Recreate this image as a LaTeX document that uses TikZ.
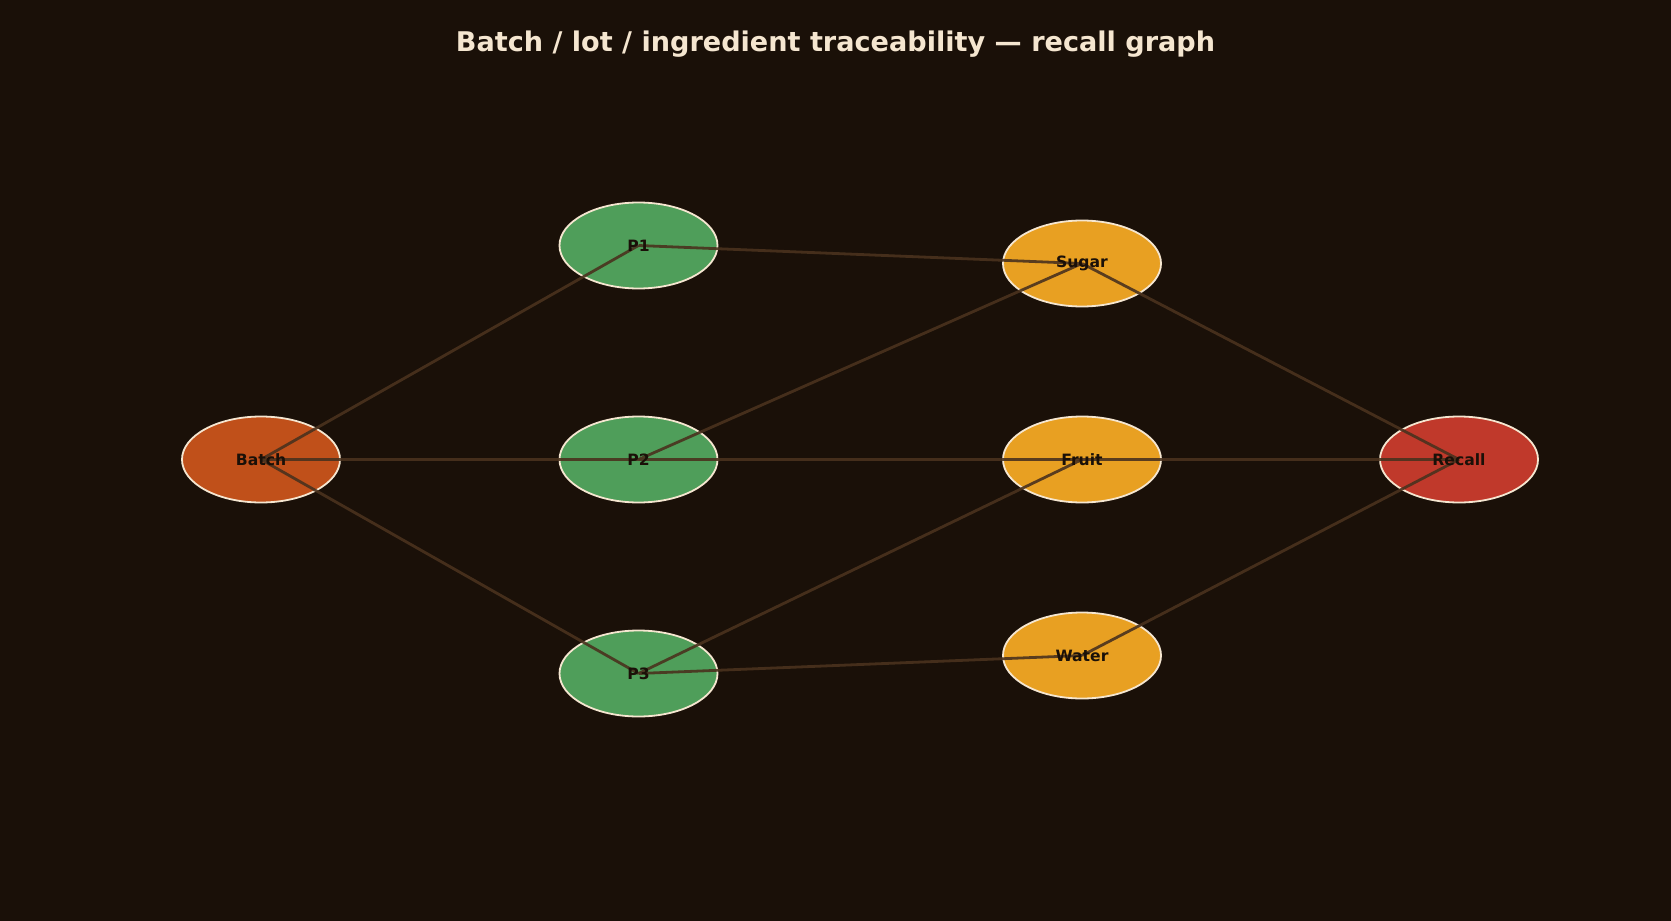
\documentclass[tikz,border=0pt]{standalone}
\usepackage{fontspec}
\setmainfont{DejaVu Sans}
\usetikzlibrary{shapes.geometric}
\definecolor{bg}{RGB}{26,16,8}
\definecolor{cream}{RGB}{245,230,208}
\definecolor{batchc}{RGB}{192,80,26}
\definecolor{greenc}{RGB}{79,158,90}
\definecolor{ambc}{RGB}{232,160,34}
\definecolor{redc}{RGB}{192,57,43}
\definecolor{edgec}{RGB}{74,50,30}
\definecolor{txt}{RGB}{26,16,8}
\tikzset{
  blob/.style={ellipse, draw=cream, line width=0.9pt, minimum width=79pt, minimum height=43pt, inner sep=0pt},
  lbl/.style={text=txt, font=\fontsize{7.8}{9}\selectfont\bfseries, inner sep=0pt},
  link/.style={draw=edgec, line width=1.4pt, opacity=0.9},
}
\begin{document}
\begin{tikzpicture}[x=0.5pt,y=-0.5pt]
\fill[bg] (0,0) rectangle (1671,921);
\useasboundingbox (0,0) rectangle (1671,921);
\node[text=cream, font=\fontsize{13.55}{16}\selectfont\bfseries] (title) at (835.5,44) {Batch / lot / ingredient traceability — recall graph};
\node[blob, fill=batchc] (batch) at (261,459.5) {};
\node[blob, fill=greenc] (p1) at (638.5,245.5) {};
\node[blob, fill=greenc] (p2) at (638.5,459.5) {};
\node[blob, fill=greenc] (p3) at (638.5,673.5) {};
\node[blob, fill=ambc] (sugar) at (1082,263.5) {};
\node[blob, fill=ambc] (fruit) at (1082,459.5) {};
\node[blob, fill=ambc] (water) at (1082,655.5) {};
\node[blob, fill=redc] (recall) at (1459,459.5) {};
\draw[link] (batch.center) -- (p1.center);
\draw[link] (batch.center) -- (p2.center);
\draw[link] (batch.center) -- (p3.center);
\draw[link] (p1.center) -- (sugar.center);
\draw[link] (p2.center) -- (sugar.center);
\draw[link] (p2.center) -- (fruit.center);
\draw[link] (p3.center) -- (fruit.center);
\draw[link] (p3.center) -- (water.center);
\draw[link] (sugar.center) -- (recall.center);
\draw[link] (fruit.center) -- (recall.center);
\draw[link] (water.center) -- (recall.center);
\node[lbl] (batchT) at (batch) {Batch};
\node[lbl] (p1T) at (p1) {P1};
\node[lbl] (p2T) at (p2) {P2};
\node[lbl] (p3T) at (p3) {P3};
\node[lbl] (sugarT) at (sugar) {Sugar};
\node[lbl] (fruitT) at (fruit) {Fruit};
\node[lbl] (waterT) at (water) {Water};
\node[lbl] (recallT) at (recall) {Recall};
\end{tikzpicture}
\end{document}
